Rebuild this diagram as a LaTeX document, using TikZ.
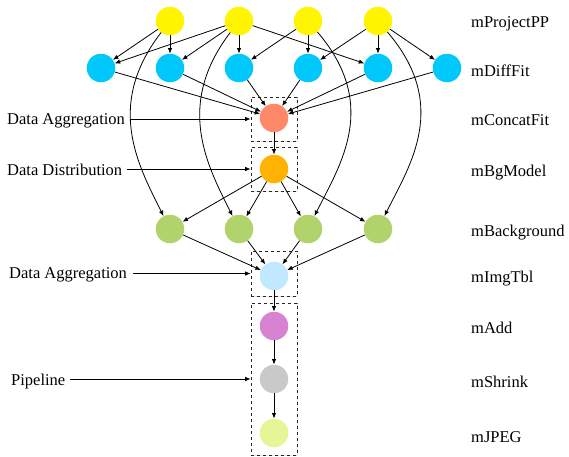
\documentclass[tikz,border=0pt]{standalone}
\usepackage{fontspec}
\setmainfont{Liberation Serif}
\usetikzlibrary{arrows.meta,shadows}
\definecolor{cyel}{RGB}{255,245,0}
\definecolor{ccyan}{RGB}{0,200,250}
\definecolor{csalmon}{RGB}{255,136,104}
\definecolor{corange}{RGB}{255,178,0}
\definecolor{cgreen}{RGB}{176,211,107}
\definecolor{clblue}{RGB}{192,232,255}
\definecolor{cviolet}{RGB}{216,130,210}
\definecolor{cgray}{RGB}{201,201,201}
\definecolor{cpale}{RGB}{230,245,150}
\begin{document}
\begin{tikzpicture}[x=1pt,y=-1pt,
  job/.style={circle,draw=none,minimum size=28.5pt,inner sep=0pt},
  dbox/.style={draw=black!85,dashed,line width=0.7pt,fill=white,inner sep=0pt,
     drop shadow={opacity=0.18,shadow xshift=0.8pt,shadow yshift=-0.8pt}},
  lbl/.style={anchor=base west,inner sep=0pt,font=\fontsize{16.5}{20}\selectfont},
  arr/.style={-{Latex[length=5.5pt,width=4.5pt]},line width=0.8pt,black},
]
\useasboundingbox (0,0) rectangle (569,456);
% dashed boxes
\node[dbox,minimum width=46pt,minimum height=44pt] (b1) at (274,119) {};
\node[dbox,minimum width=46pt,minimum height=44pt] (b2) at (274,169) {};
\node[dbox,minimum width=46pt,minimum height=45pt] (b3) at (274,273.5) {};
\node[dbox,minimum width=46pt,minimum height=152pt] (b4) at (274,379) {};
% jobs
\node[job,fill=cyel] (y1) at (170,21) {};
\node[job,fill=cyel] (y2) at (239,21) {};
\node[job,fill=cyel] (y3) at (308,21) {};
\node[job,fill=cyel] (y4) at (378,21) {};
\node[job,fill=ccyan] (c1) at (101,68) {};
\node[job,fill=ccyan] (c2) at (170,68) {};
\node[job,fill=ccyan] (c3) at (239,68) {};
\node[job,fill=ccyan] (c4) at (308,68) {};
\node[job,fill=ccyan] (c5) at (378,68) {};
\node[job,fill=ccyan] (c6) at (447,68) {};
\node[job,fill=csalmon] (cf) at (274,118) {};
\node[job,fill=corange] (bg) at (274,169) {};
\node[job,fill=cgreen] (g1) at (170,229) {};
\node[job,fill=cgreen] (g2) at (239,229) {};
\node[job,fill=cgreen] (g3) at (308,229) {};
\node[job,fill=cgreen] (g4) at (378,229) {};
\node[job,fill=clblue] (it) at (274,276) {};
\node[job,fill=cviolet] (ad) at (274,326) {};
\node[job,fill=cgray] (sh) at (274,379) {};
\node[job,fill=cpale] (jp) at (274,433) {};
% edges
\draw[arr] (y1) -- (c1);
\draw[arr] (y1) -- (c2);
\draw[arr] (y2) -- (c1);
\draw[arr] (y2) -- (c2);
\draw[arr] (y2) -- (c3);
\draw[arr] (y2) -- (c5);
\draw[arr] (y3) -- (c3);
\draw[arr] (y3) -- (c4);
\draw[arr] (y4) -- (c4);
\draw[arr] (y4) -- (c5);
\draw[arr] (y4) -- (c6);
\draw[arr] (y1) .. controls (105,105) and (138,165) .. (g1);
\draw[arr] (y2) .. controls (175,105) and (207,165) .. (g2);
\draw[arr] (y3) .. controls (380,105) and (340,165) .. (g3);
\draw[arr] (y4) .. controls (450,105) and (410,165) .. (g4);
\foreach \c in {c1,c2,c3,c4,c5,c6} \draw[arr] (\c) -- (cf);
\draw[arr] (cf) -- (bg);
\foreach \g in {g1,g2,g3,g4} {\draw[arr] (bg) -- (\g); \draw[arr] (\g) -- (it);}
\draw[arr] (it) -- (ad);
\draw[arr] (ad) -- (sh);
\draw[arr] (sh) -- (jp);
% right labels
\node[lbl] (r1) at (471,27) {mProjectPP};
\node[lbl] (r2) at (471,76) {mDiffFit};
\node[lbl] (r3) at (471,125) {mConcatFit};
\node[lbl] (r4) at (471,176) {mBgModel};
\node[lbl] (r5) at (471,236) {mBackground};
\node[lbl] (r6) at (471,282) {mImgTbl};
\node[lbl] (r7) at (471,333) {mAdd};
\node[lbl] (r8) at (471,387) {mShrink};
\node[lbl] (r9) at (471,442) {mJPEG};
% left labels
\node[lbl] (l1) at (7,124) {Data Aggregation};
\node[lbl] (l2) at (7,175) {Data Distribution};
\node[lbl] (l3) at (9,278) {Data Aggregation};
\node[lbl] (l4) at (11,385) {Pipeline};
\coordinate (s1) at ([xshift=5pt]l1.base east);
\coordinate (s2) at ([xshift=5pt]l2.base east);
\coordinate (s3) at ([xshift=6pt]l3.base east);
\coordinate (s4) at ([xshift=5pt]l4.base east);
\draw[arr] (s1 |- b1.west) -- (b1.west);
\draw[arr] (s2 |- b2.west) -- (b2.west);
\draw[arr] (s3 |- b3.west) -- (b3.west);
\draw[arr] (s4 |- b4.west) -- (b4.west);
\end{tikzpicture}
\end{document}
